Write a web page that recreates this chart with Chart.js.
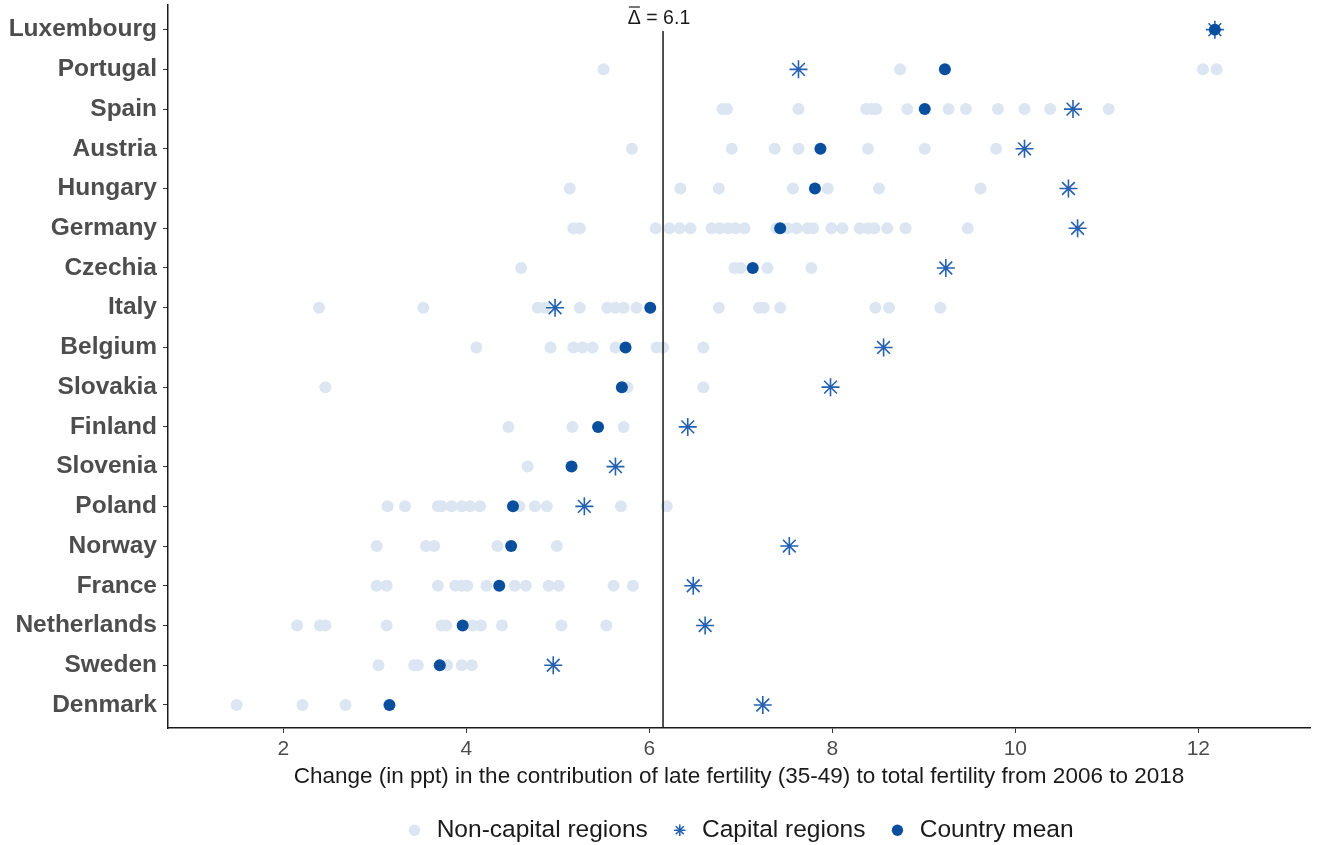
<!DOCTYPE html>
<html>
<head>
<meta charset="utf-8">
<script src="https://cdn.jsdelivr.net/npm/chart.js@4.4.1/dist/chart.umd.min.js"></script>
<style>
  html, body { margin: 0; padding: 0; background: #fff; }
  #wrap { width: 1321px; height: 845px; position: relative; }
</style>
</head>
<body>
<div id="wrap"><canvas id="chart"></canvas></div>
<script>
// Countries, top to bottom
const countries = ['Luxembourg', 'Portugal', 'Spain', 'Austria', 'Hungary', 'Germany', 'Czechia', 'Italy',
  'Belgium', 'Slovakia', 'Finland', 'Slovenia', 'Poland', 'Norway', 'France', 'Netherlands', 'Sweden', 'Denmark'];

// Non-capital regions, one list per country (same order as above)
const nonCapital = [
  [12.18],
  [5.50, 8.74, 12.05, 12.20],
  [6.80, 6.85, 7.63, 8.37, 8.43, 8.48, 8.82, 9.27, 9.46, 9.81, 10.10, 10.38, 11.02],
  [5.81, 6.90, 7.37, 7.63, 8.39, 9.01, 9.79],
  [5.13, 6.34, 6.76, 7.57, 7.95, 8.51, 9.62],
  [5.17, 5.24, 6.07, 6.22, 6.33, 6.45, 6.68, 6.77, 6.86, 6.94, 7.04, 7.39, 7.51, 7.61, 7.73, 7.79,
   7.99, 8.11, 8.30, 8.39, 8.46, 8.60, 8.80, 9.48],
  [4.60, 6.93, 7.00, 7.29, 7.77],
  [2.39, 3.53, 4.78, 4.86, 5.24, 5.54, 5.63, 5.72, 5.86, 6.76, 7.20, 7.25, 7.43, 8.47, 8.62, 9.18],
  [4.11, 4.92, 5.17, 5.27, 5.38, 5.63, 6.08, 6.15, 6.59],
  [2.46, 5.76, 6.59],
  [4.46, 5.16, 5.72],
  [4.67],
  [3.14, 3.33, 3.69, 3.73, 3.84, 3.95, 4.04, 4.15, 4.58, 4.75, 4.88, 5.69, 6.19],
  [3.02, 3.56, 3.65, 4.34, 4.99],
  [3.02, 3.13, 3.69, 3.88, 3.95, 4.01, 4.22, 4.53, 4.65, 4.90, 5.01, 5.61, 5.82],
  [2.15, 2.40, 2.46, 3.13, 3.73, 3.78, 4.07, 4.16, 4.39, 5.04, 5.53],
  [3.04, 3.43, 3.47, 3.79, 3.95, 4.06],
  [1.49, 2.21, 2.68]
];

// Capital region of each country
const capitalValues = [12.18, 7.63, 10.63, 10.10, 10.58, 10.68, 9.24, 4.97, 8.56, 7.98, 6.42, 5.63,
  5.29, 7.53, 6.48, 6.61, 4.95, 7.24];

// Country mean
const countryMeans = [12.18, 9.23, 9.01, 7.87, 7.81, 7.43, 7.13, 6.01, 5.74, 5.70, 5.44, 5.15,
  4.51, 4.49, 4.36, 3.96, 3.71, 3.16];

const xTicks = [2, 4, 6, 8, 10, 12];
const overallMean = 6.15;
const overallMeanLabel = '6.1';

const FONT = '"Liberation Sans", Arial, sans-serif';

const nonCapitalPoints = [];
nonCapital.forEach((vals, i) => vals.forEach(v => nonCapitalPoints.push({ x: v, y: i })));
const capitalPoints = capitalValues.map((v, i) => ({ x: v, y: i }));
const meanPoints = countryMeans.map((v, i) => ({ x: v, y: i }));

// vertical line for the overall mean + label on top
const meanLine = {
  id: 'meanLine',
  afterDatasetsDraw(chart) {
    const ctx = chart.ctx;
    const x = chart.scales.x.getPixelForValue(overallMean);
    const area = chart.chartArea;
    ctx.save();
    ctx.strokeStyle = '#1a1a1a';
    ctx.lineWidth = 1.5;
    ctx.beginPath();
    ctx.moveTo(x, area.top + 26);
    ctx.lineTo(x, area.bottom);
    ctx.stroke();

    ctx.font = '19.5px ' + FONT;
    ctx.fillStyle = '#1a1a1a';
    ctx.textBaseline = 'middle';
    const delta = '\u0394';
    const rest = ' = ' + overallMeanLabel;
    const wD = ctx.measureText(delta).width;
    const wR = ctx.measureText(rest).width;
    const left = x - 4 - (wD + wR) / 2;
    const ty = area.top + 14;
    ctx.textAlign = 'left';
    ctx.fillText(delta, left, ty);
    ctx.fillText(rest, left + wD, ty);
    // bar over the delta
    ctx.lineWidth = 1.2;
    ctx.beginPath();
    ctx.moveTo(left + 1, ty - 12);
    ctx.lineTo(left + wD - 1, ty - 12);
    ctx.stroke();
    ctx.restore();
  }
};

new Chart(document.getElementById('chart'), {
  type: 'scatter',
  data: {
    datasets: [
      {
        label: 'Non-capital regions',
        data: nonCapitalPoints,
        order: 3,
        pointStyle: 'circle',
        pointRadius: 6,
        backgroundColor: '#dce6f2',
        borderColor: '#dce6f2',
        borderWidth: 0
      },
      {
        label: 'Capital regions',
        data: capitalPoints,
        order: 2,
        pointStyle: 'star',
        pointRadius: 9,
        backgroundColor: '#2461b0',
        borderColor: '#2461b0',
        borderWidth: 1.6
      },
      {
        label: 'Country mean',
        data: meanPoints,
        order: 1,
        pointStyle: 'circle',
        pointRadius: 6,
        backgroundColor: '#0a4f9e',
        borderColor: '#0a4f9e',
        borderWidth: 0
      }
    ]
  },
  options: {
    responsive: true,
    maintainAspectRatio: false,
    animation: false,
    layout: { autoPadding: false, padding: { top: 5, right: 11, left: 0, bottom: 0 } },
    plugins: {
      tooltip: { enabled: false },
      legend: {
        position: 'bottom',
        fullSize: false,
        maxHeight: 49,
        labels: {
          usePointStyle: true,
          boxWidth: 20,
          boxHeight: 8,
          padding: 22,
          color: '#1a1a1a',
          font: { family: FONT, size: 24.5 },
          sort: (a, b) => a.datasetIndex - b.datasetIndex
        }
      }
    },
    scales: {
      x: {
        type: 'linear',
        min: 0.74,
        max: 13.22,
        afterBuildTicks: s => { s.ticks = xTicks.map(v => ({ value: v })); },
        afterFit: s => { s.height = 68; s.paddingLeft = 0; s.paddingRight = 0; },
        border: { display: true, color: '#1a1a1a', width: 1.5 },
        grid: { drawOnChartArea: false, drawTicks: true, tickLength: 5, color: '#333' },
        ticks: {
          padding: 4,
          color: '#4d4d4d',
          font: { family: FONT, size: 21 }
        },
        title: {
          display: true,
          text: 'Change (in ppt) in the contribution of late fertility (35-49) to total fertility from 2006 to 2018',
          color: '#1a1a1a',
          padding: { top: 4, bottom: 6 },
          font: { family: FONT, size: 22.5 }
        }
      },
      y: {
        type: 'linear',
        reverse: true,
        min: -0.62,
        max: 17.58,
        afterBuildTicks: s => { s.ticks = countries.map((c, i) => ({ value: i })); },
        afterFit: s => { s.width = 168; s.paddingTop = 0; s.paddingBottom = 0; },
        border: { display: true, color: '#1a1a1a', width: 1.5 },
        grid: { drawOnChartArea: false, drawTicks: true, tickLength: 5, color: '#333' },
        ticks: {
          padding: 6,
          color: '#4d4d4d',
          font: { family: FONT, size: 24.5, weight: 'bold' },
          callback: v => countries[v]
        }
      }
    }
  },
  plugins: [meanLine]
});
</script>
</body>
</html>
